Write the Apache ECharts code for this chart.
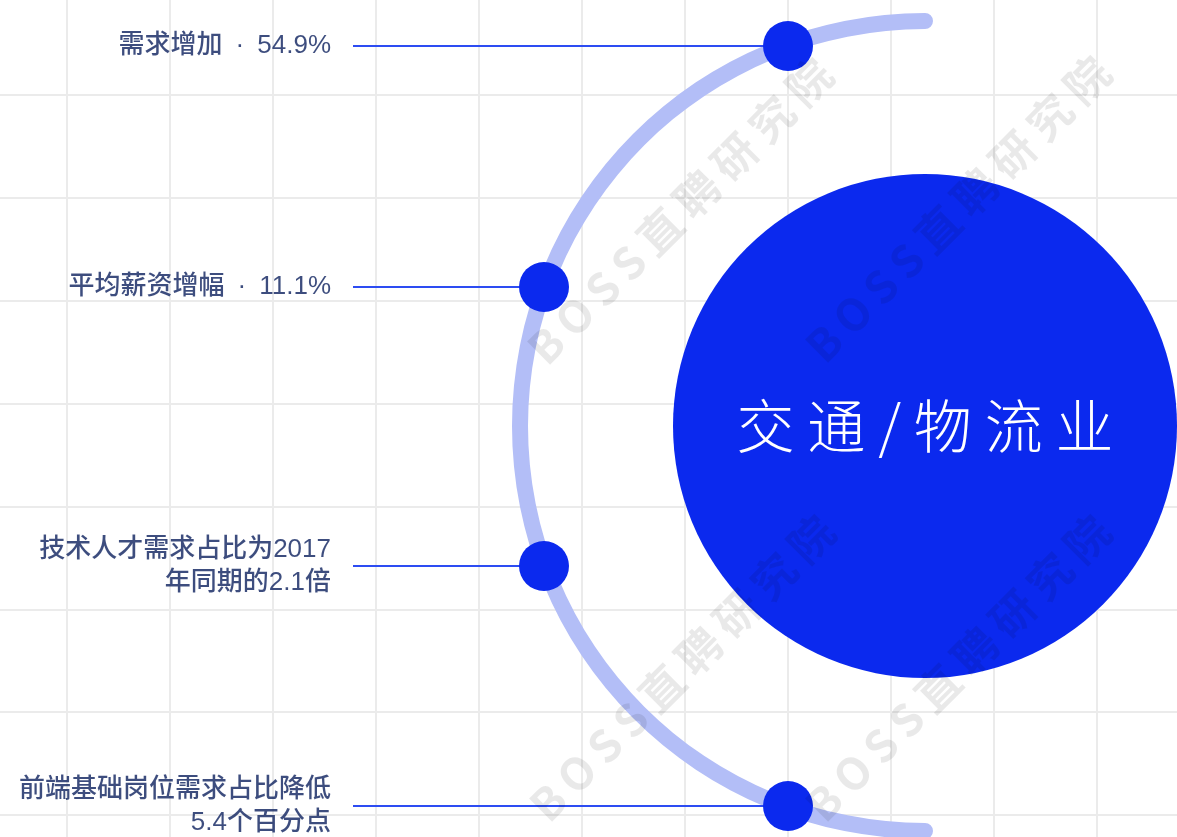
<!DOCTYPE html>
<html>
<head>
    <meta charset="utf-8">
    <title>交通/物流业</title>
    <script src="https://cdn.jsdelivr.net/npm/echarts@6.0.0/dist/echarts.min.js"></script>
    <style>html, body { margin: 0; padding: 0; background: #fff; }</style>
</head>
<body>
    <div id="main" style="width: 1177px;height:837px;"></div>
    <script type="text/javascript">
        var myChart = echarts.init(document.getElementById('main'));

        // 左侧说明文字
        var labels = [
            '需求增加 · 54.9%',
            '平均薪资增幅 · 11.1%',
            '技术人才需求占比为2017\n年同期的2.1倍',
            '前端基础岗位需求占比降低\n5.4个百分点'
        ];
        // 圆点 (画布像素坐标)
        var dotX = [788, 544, 544, 788];
        var dotY = [46, 287, 566, 806];
        var lineStartX = 353;
        // 中心大圆
        var industry = '交通/物流业';
        var center = [925, 426];
        // 水印
        var watermark = 'BOSS直聘研究院';
        var markX = [680, 958, 682, 958];
        var markY = [211, 209, 668, 668];

        var dotData = dotX.map(function (x, i) { return [x, dotY[i]]; });
        var lineData = dotX.map(function (x, i) {
            return { coords: [[lineStartX, dotY[i]], [x, dotY[i]]] };
        });
        var labelData = labels.map(function (t, i) {
            return { name: t, value: [lineStartX, dotY[i]] };
        });
        var markData = markX.map(function (x, i) { return [x, markY[i]]; });

        var gridLine = {
            axisLine: { show: false },
            axisTick: { show: false },
            axisLabel: { show: false },
            splitLine: { show: true, lineStyle: { color: '#ebebeb', width: 2 } }
        };

        option = {
            backgroundColor: '#ffffff',
            animation: false,
            grid: [
                { left: 0, top: 0, right: 0, bottom: 0, outerBoundsMode: 'none' },
                { left: -36, top: -8, width: 1236, height: 926, outerBoundsMode: 'none' }
            ],
            xAxis: [
                { gridIndex: 0, type: 'value', min: 0, max: 1177, show: false },
                Object.assign({ gridIndex: 1, type: 'value', min: 0, max: 12, interval: 1 }, gridLine)
            ],
            yAxis: [
                { gridIndex: 0, type: 'value', min: 0, max: 837, inverse: true, show: false },
                Object.assign({ gridIndex: 1, type: 'value', min: 0, max: 9, interval: 1, inverse: true }, gridLine)
            ],
            polar: { center: center, radius: [397, 413] },
            angleAxis: { type: 'value', min: 0, max: 360, startAngle: 90, clockwise: false, show: false },
            radiusAxis: { type: 'category', data: ['arc'], show: false },
            series: [
                {
                    type: 'bar',
                    coordinateSystem: 'polar',
                    data: [180],
                    barWidth: '100%',
                    roundCap: true,
                    silent: true,
                    itemStyle: { color: '#b3bef7' },
                    z: 2
                },
                {
                    type: 'scatter',
                    data: [{ name: industry, value: center }],
                    symbolSize: 504,
                    silent: true,
                    itemStyle: { color: '#0b29ee', opacity: 1 },
                    label: {
                        show: true,
                        position: 'inside',
                        formatter: function (p) { return p.name.split('').join(' '); },
                        color: '#ffffff',
                        fontSize: 58,
                        fontWeight: 300,
                        fontFamily: 'Noto Sans CJK SC'
                    },
                    z: 3
                },
                {
                    type: 'lines',
                    coordinateSystem: 'cartesian2d',
                    data: lineData,
                    silent: true,
                    lineStyle: { color: '#2d4cf2', width: 2, opacity: 1, curveness: 0 },
                    z: 4
                },
                {
                    type: 'scatter',
                    data: dotData,
                    symbolSize: 50,
                    itemStyle: { color: '#0b29ee', opacity: 1 },
                    z: 5
                },
                {
                    type: 'scatter',
                    data: labelData,
                    symbolSize: 0,
                    silent: true,
                    label: {
                        show: true,
                        position: 'left',
                        distance: 22,
                        formatter: function (p) { return p.name.replace(' · ', '\u2002·\u2002'); },
                        color: '#0c215e',
                        fontSize: 26,
                        fontWeight: 500,
                        lineHeight: 33,
                        fontFamily: "'Liberation Sans', 'Noto Sans CJK SC', sans-serif"
                    },
                    z: 6
                },
                {
                    type: 'scatter',
                    data: markData,
                    symbolSize: 0,
                    silent: true,
                    label: {
                        show: true,
                        position: 'inside',
                        rotate: 45,
                        formatter: function () { return watermark.split('').join('\u2009'); },
                        color: 'rgba(0, 0, 0, 0.11)',
                        fontSize: 44,
                        fontWeight: 'bold',
                        fontFamily: "'Noto Sans CJK SC', sans-serif"
                    },
                    z: 10
                }
            ]
        };
        myChart.setOption(option);
    </script>
</body>
</html>
